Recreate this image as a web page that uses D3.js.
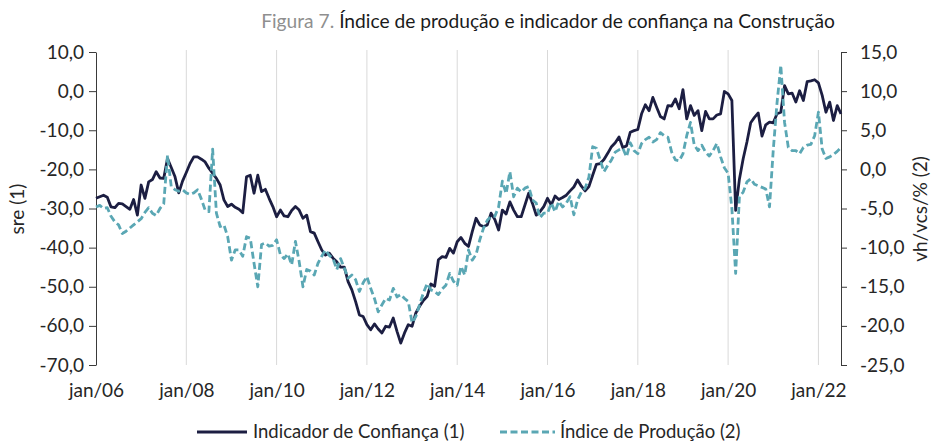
<!DOCTYPE html>
<html><head><meta charset="utf-8">
<script src="https://cdn.jsdelivr.net/npm/d3@7"></script>
<style>
body{margin:0;background:#fff}
svg{display:block}
text{font-family:Lato,"Open Sans",sans-serif}
</style>
</head><body>
<svg id="chart" width="932" height="446"></svg>
<script>
// ---------- DATA ----------
const titleLead = "Figura 7.";
const titleText = "Índice de produção e indicador de confiança na Construção";
const seriesNames = ["Indicador de Confiança (1)", "Índice de Produção (2)"];
const leftAxisTitle = "sre (1)";
const rightAxisTitle = "vh/vcs/% (2)";

// monthly categories jan/2006 ... jul/2022 (index 0..198)
const categories = [];
for (let y = 2006; y <= 2022; y++) for (let m = 1; m <= 12; m++) if (categories.length < 199) categories.push(y + "-" + String(m).padStart(2, "0"));

// Indicador de Confiança (sre, left axis)
const confianca = [
 -27.4,-27.0,-26.6,-27.1,-29.6,-29.8,-28.7,-28.8,-29.5,-30.2,-27.7,-31.7,
 -24.0,-27.4,-23.2,-22.6,-20.6,-22.2,-22.3,-17.2,-19.5,-21.9,-26.0,-23.0,
 -20.8,-18.5,-16.8,-16.8,-17.4,-18.1,-19.7,-21.0,-22.3,-24.0,-27.8,-29.5,
 -28.9,-29.7,-30.2,-31.1,-21.9,-21.5,-26.1,-21.5,-25.7,-25.1,-27.4,-29.5,
 -32.1,-30.4,-31.9,-32.1,-30.5,-29.5,-30.4,-32.5,-31.7,-35.9,-36.3,-38.5,
 -40.6,-41.9,-41.4,-42.7,-43.6,-45.0,-45.0,-48.7,-50.8,-53.8,-57.2,-57.6,
 -59.7,-61.0,-59.5,-60.8,-61.8,-60.1,-60.3,-58.0,-61.4,-64.4,-61.8,-59.7,
 -60.1,-56.7,-55.0,-53.5,-52.5,-49.3,-49.9,-43.1,-42.3,-42.5,-40.2,-41.4,
 -38.5,-37.4,-38.9,-39.7,-35.9,-32.5,-34.2,-34.6,-34.2,-31.2,-32.8,-35.5,
 -30.4,-31.4,-28.3,-30.4,-32.1,-32.1,-29.1,-26.1,-28.7,-31.7,-30.8,-29.5,
 -27.4,-29.1,-26.8,-27.7,-27.2,-26.6,-25.5,-24.5,-22.7,-24.3,-25.5,-24.4,
 -21.5,-18.7,-18.5,-17.5,-15.9,-14.2,-13.2,-11.7,-14.4,-14.0,-10.5,-10.1,
 -9.8,-5.8,-3.5,-5.0,-1.6,-4.1,-6.5,-7.1,-3.7,-3.8,-2.0,-4.5,
 0.4,-7.1,-3.7,-6.2,-5.0,-10.1,-5.2,-7.1,-7.1,-6.1,-5.8,-0.1,
 -0.7,-2.4,-30.5,-22.5,-17.3,-13.0,-8.1,-6.7,-5.6,-11.5,-8.6,-7.9,
 -8.1,-5.8,-5.4,1.4,-0.7,-0.5,-2.8,0.1,-2.4,2.4,2.6,2.9,
 2.1,-1.1,-5.4,-2.8,-7.5,-3.7,-5.8
];

// Índice de Produção (vh/vcs/%, right axis)
const producao = [
 -4.8,-4.6,-5.0,-4.9,-6.0,-6.7,-7.1,-8.2,-7.9,-7.5,-7.1,-6.7,
 -6.3,-5.5,-4.9,-5.6,-5.9,-5.0,-4.4,1.8,-2.2,-2.6,-2.8,-2.6,
 -3.0,-3.2,-3.0,-2.6,-3.8,-5.2,-5.4,2.6,-5.6,-7.3,-7.1,-8.6,
 -11.6,-10.3,-10.3,-11.1,-8.6,-8.8,-12.0,-15.0,-9.6,-9.4,-9.8,-9.7,
 -9.0,-10.9,-11.4,-10.8,-12.2,-9.2,-11.8,-15.0,-12.8,-13.0,-13.5,-12.0,
 -11.1,-10.3,-11.0,-11.4,-12.8,-11.4,-12.6,-13.9,-13.5,-14.1,-15.6,-14.5,
 -13.7,-15.2,-16.5,-18.2,-17.3,-16.5,-16.7,-15.2,-16.3,-16.0,-16.5,-16.9,
 -19.6,-18.8,-17.3,-15.8,-14.6,-15.4,-15.6,-16.0,-15.3,-14.8,-13.3,-14.3,
 -14.8,-12.4,-13.5,-10.3,-11.6,-10.9,-9.0,-7.5,-6.5,-6.0,-6.0,-4.8,
 -1.5,-3.1,-0.3,-3.5,-2.4,-2.9,-2.4,-2.2,-3.9,-4.3,-6.2,-5.6,
 -5.6,-4.3,-5.4,-4.1,-4.8,-4.3,-3.5,-5.8,-3.9,-2.9,-2.4,-1.0,
 2.9,2.7,1.2,-0.3,0.5,1.2,2.2,2.5,2.7,1.6,3.4,2.4,
 2.0,3.3,3.8,4.1,3.5,3.8,4.7,4.3,4.1,2.2,1.2,1.1,
 2.0,4.3,6.0,3.1,2.4,3.1,2.2,1.7,2.4,3.3,1.6,0.2,
 -0.5,-5.0,-13.3,-3.5,-2.9,-1.6,-1.2,-1.9,-2.1,-2.3,-2.5,-4.8,
 2.5,8.5,13.3,6.0,2.8,2.4,2.4,2.0,2.8,3.1,3.2,4.3,
 7.3,2.6,1.4,1.6,1.9,2.3,2.8
];

const xTickIndex = [0, 24, 48, 72, 96, 120, 144, 168, 192];
const xTickLabels = ["jan/06","jan/08","jan/10","jan/12","jan/14","jan/16","jan/18","jan/20","jan/22"];
const leftTicks = [10, 0, -10, -20, -30, -40, -50, -60, -70];
const rightTicks = [15, 10, 5, 0, -5, -10, -15, -20, -25];

// ---------- STYLE / LAYOUT ----------
const W = 932, H = 446;
const plot = {left: 96, right: 841, top: 52, bottom: 365};
const colConf = "#1c1e42", colProd = "#5aa7b4";
const textCol = "#262626";
const fs = 19;

const svg = d3.select("#chart");
const x = d3.scaleLinear().domain([0, categories.length - 1]).range([plot.left, plot.right]);
const yL = d3.scaleLinear().domain([-70, 10]).range([plot.bottom, plot.top]);
const yR = d3.scaleLinear().domain([-25, 15]).range([plot.bottom, plot.top]);
const fmt = d => d.toFixed(1).replace(".", ",");

// title
const title = svg.append("text").attr("x", 548).attr("y", 28).attr("text-anchor", "middle")
  .style("font-size", "19.2px");
title.append("tspan").attr("fill", "#8f8f8f").text(titleLead + " ");
title.append("tspan").attr("fill", "#1a1a1a").text(titleText);

// vertical gridlines
svg.append("g").selectAll("line").data(xTickIndex.slice(1)).join("line")
  .attr("x1", d => x(d)).attr("x2", d => x(d))
  .attr("y1", plot.top - 2).attr("y2", plot.bottom)
  .attr("stroke", "#d9d9d9").attr("stroke-width", 1);

// bottom axis (labels only)
const gx = svg.append("g").attr("transform", `translate(0,${plot.bottom})`)
  .call(d3.axisBottom(x).tickValues(xTickIndex).tickFormat((d, i) => xTickLabels[i]).tickSize(0).tickPadding(19));
gx.select(".domain").remove();
gx.selectAll("text").style("font-size", fs + "px").style("font-family", "Lato").attr("fill", textCol);

// left axis
const gl = svg.append("g").attr("transform", `translate(${plot.left},0)`)
  .call(d3.axisLeft(yL).tickValues(leftTicks).tickFormat(fmt).tickSize(7).tickSizeOuter(0).tickPadding(5));
gl.selectAll("text").style("font-size", fs + "px").style("font-family", "Lato").attr("fill", textCol);
gl.selectAll("line, path").attr("stroke", "#3a3a3a");

// right axis
const gr = svg.append("g").attr("transform", `translate(${plot.right},0)`)
  .call(d3.axisRight(yR).tickValues(rightTicks).tickFormat(fmt).tickSize(6).tickSizeOuter(0).tickPadding(13));
gr.selectAll("text").style("font-size", fs + "px").style("font-family", "Lato").attr("fill", textCol);
gr.selectAll("line, path").attr("stroke", "#3a3a3a");

// axis titles
svg.append("text").attr("transform", `translate(24,209) rotate(-90)`).attr("text-anchor", "middle")
  .style("font-size", fs + "px").attr("fill", textCol).text(leftAxisTitle);
svg.append("text").attr("transform", `translate(927,209) rotate(-90)`).attr("text-anchor", "middle")
  .style("font-size", fs + "px").attr("fill", textCol).text(rightAxisTitle);

// lines
const lineL = d3.line().x((d, i) => x(i)).y(d => yL(d));
const lineR = d3.line().x((d, i) => x(i)).y(d => yR(d));
svg.append("path").datum(confianca).attr("d", lineL).attr("fill", "none")
  .attr("stroke", colConf).attr("stroke-width", 2.8).attr("stroke-linejoin", "round");
svg.append("path").datum(producao).attr("d", lineR).attr("fill", "none")
  .attr("stroke", colProd).attr("stroke-width", 2.8).attr("stroke-dasharray", "7,3.5").attr("stroke-linejoin", "round");

// legend
const leg = svg.append("g");
leg.append("line").attr("x1", 197).attr("x2", 247).attr("y1", 432).attr("y2", 432)
  .attr("stroke", colConf).attr("stroke-width", 2.8);
leg.append("text").attr("x", 253).attr("y", 438).style("font-size", "18.5px").attr("fill", textCol).text(seriesNames[0]);
leg.append("line").attr("x1", 500).attr("x2", 555).attr("y1", 432).attr("y2", 432)
  .attr("stroke", colProd).attr("stroke-width", 2.8).attr("stroke-dasharray", "7,3.5");
leg.append("text").attr("x", 560).attr("y", 438).style("font-size", "18.5px").attr("fill", textCol).text(seriesNames[1]);
</script>
</body></html>
